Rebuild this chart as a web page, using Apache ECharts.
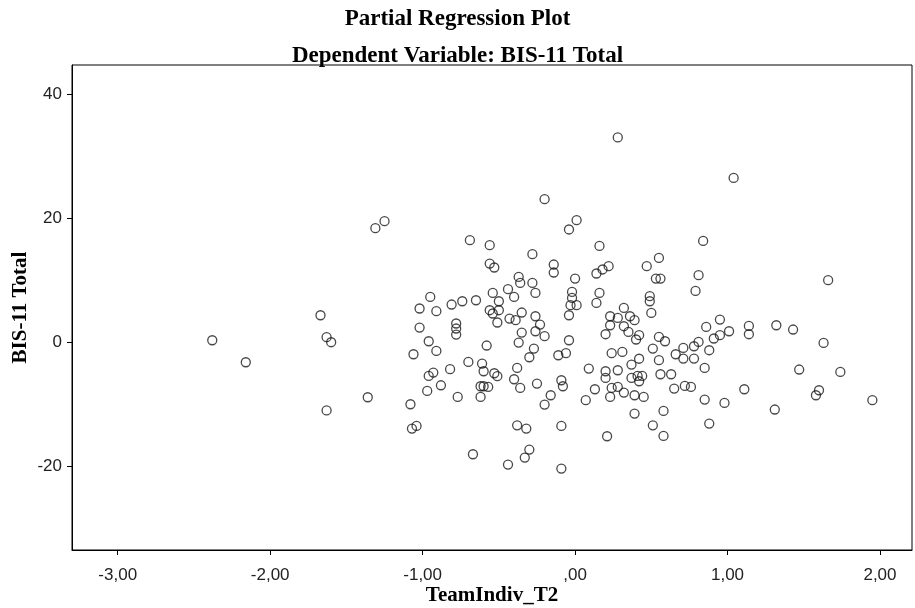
<!DOCTYPE html>
<html>
<head>
<meta charset="utf-8">
<title>Partial Regression Plot</title>
<script src="https://cdn.jsdelivr.net/npm/echarts@6/dist/echarts.min.js"></script>
<style>
  html, body { margin: 0; padding: 0; background: #fff; }
  #chart { width: 915px; height: 608px; }
</style>
</head>
<body>
<div id="chart"></div>
<script>
// Residuals of TeamIndiv_T2 (x) against residuals of BIS-11 Total (y)
const teamIndiv = [
  -2.38, -2.16, -1.67, -1.63, -1.63, -1.60, -1.36, -1.31, -1.25, -0.69,
   0.28, -0.20,  0.01, -0.04,  1.04, -0.56, -0.56, -0.53, -0.37, -0.36,
  -0.44, -0.40, -0.54, -0.95, -1.02, -0.91, -0.81, -0.74, -0.65, -0.50,
  -0.56, -0.54, -0.50, -0.51, -0.43, -0.39, -0.35, -0.78, -0.78, -0.78,
  -1.02, -0.96, -0.91, -1.06, -0.58, -0.37, -0.35,  0.16, -0.28, -0.14,
  -0.14,  0.14,  0.18,  0.22,  0.47,  0.00, -0.28, -0.26, -0.02, -0.02,
  -0.03,  0.01,  0.16,  0.14,  0.49,  0.49, -0.04, -0.26, -0.23, -0.26,
  -0.20, -0.04, -0.27, -0.30, -0.11, -0.06,  0.32,  0.23,  0.28,  0.36,
   0.39,  0.23,  0.20,  0.32,  0.35,  0.42,  0.40,  0.50,  0.24,  0.31,
   0.42,  0.51,  0.84,  0.55,  0.53,  0.56,  0.81,  0.79,  0.86,  0.95,
   1.01,  0.95,  0.91,  0.81,  0.78,  0.71,  0.66,  0.88,  0.55,  0.59,
   1.14,  1.14,  1.32,  1.66,  1.43,  1.63, -0.70, -0.61, -0.60, -0.53,
  -0.51, -0.38, -0.40, -0.36, -0.82, -0.93, -0.96, -0.88, -0.97, -1.08,
  -0.77, -0.62, -0.62, -0.60, -0.57, -1.07, -1.04, -0.67, -0.44, -0.38,
  -0.32, -0.33,  0.09,  0.20,  0.20,  0.28,  0.37,  0.37,  0.41,  0.44,
   0.42, -0.25, -0.09, -0.08, -0.16, -0.20,  0.07,  0.13,  0.23,  0.24,
   0.28,  0.32,  0.39,  0.45,  0.39, -0.09,  0.21, -0.30, -0.09,  0.55,
   0.71,  0.78,  0.85,  0.56,  0.63,  0.65,  0.72,  0.76,  0.85,  0.98,
   1.11,  1.31,  0.58,  0.51,  0.58,  0.88,  1.47,  1.74,  1.60,  1.58,
   1.95
];
const bisTotal = [
    0.32,  -3.23,   4.35, -11.00,   0.81,   0.00,  -8.87,  18.39,  19.52,  16.45,
   33.02,  23.06,  19.68,  18.18,  26.50,  15.65,  12.69,  12.05,  10.53,   9.56,
    8.55,   7.31,   7.95,   7.31,   5.44,   5.00,   6.08,   6.61,   6.77,   6.61,
    5.16,   4.63,   5.16,   3.18,   3.82,   3.55,   4.79,   3.02,   2.21,   1.24,
    2.37,   0.16,  -1.40,  -1.94,  -0.53,  -0.05,   1.56,  15.53,  14.19,  12.53,
   11.24,  11.08,  11.73,  12.26,  12.26,  10.27,   9.56,   7.95,   8.11,   7.15,
    5.97,   5.97,   7.95,   6.34,   7.42,   6.61,   4.35,   4.19,   2.85,   1.77,
    0.97,   0.32,  -1.02,  -2.42,  -2.10,  -1.77,   5.53,   4.19,   3.92,   4.19,
    3.55,   2.74,   1.29,   2.58,   1.66,   1.13,   0.44,   4.73,  -1.77,  -1.56,
   -2.66,  -1.02,  16.34,  13.60,  10.27,  10.27,  10.81,   8.27,   2.47,   3.66,
    1.77,   1.13,   0.60,   0.05,  -0.65,  -0.92,  -1.94,  -1.29,   0.85,   0.16,
    2.63,   1.29,   2.74,  10.00,   2.05,  -0.11,  -3.18,  -3.44,  -4.68,  -5.00,
   -5.48,  -4.15,  -5.97,  -7.37,  -4.35,  -4.89,  -5.44,  -6.94,  -7.85, -10.00,
   -8.82,  -8.82,  -7.10,  -7.10,  -7.21, -13.92, -13.50, -18.06, -19.73, -13.39,
  -13.92, -18.60,  -4.24,  -4.68,  -5.76,  -4.52,  -3.60,  -5.76,  -5.44,  -5.44,
   -6.29,  -6.66,  -6.13,  -7.10,  -8.55, -10.05,  -9.35,  -7.58,  -8.82,  -7.37,
   -7.21,  -8.11,  -8.55,  -8.82, -11.50, -13.50, -15.16, -17.31, -20.37,  -2.90,
   -2.63,  -2.63,  -4.15,  -5.16,  -5.16,  -7.47,  -7.05,  -7.21,  -9.24,  -9.79,
   -7.58, -10.85, -11.08, -13.39, -15.11, -13.11,  -4.40,  -4.79,  -7.74,  -8.55,
   -9.35
];

const xTicks = [-3, -2, -1, 0, 1, 2];
const yTicks = [-20, 0, 20, 40];
const xRange = [-3.30, 2.21];
const yRange = [-33.5, 44.7];

const titleText = 'Partial Regression Plot';
const subtitleText = 'Dependent Variable: BIS-11 Total';
const xName = 'TeamIndiv_T2';
const yName = 'BIS-11 Total';

const points = teamIndiv.map((x, i) => [x, bisTotal[i]]);

// SPSS style decimal comma, leading zero dropped: ",00", "-1,00"
function fmtX(v) {
  let s = Math.abs(v).toFixed(2).replace('.', ',');
  if (s.startsWith('0')) s = s.slice(1);
  return (v < 0 ? '-' : '') + s;
}

const titleFont = { fontFamily: 'Liberation Serif', fontWeight: 'bold', fontSize: 23, color: '#000' };
const nameFont = { fontFamily: 'Liberation Serif', fontWeight: 'bold', fontSize: 21, color: '#000' };
const tickFont = { fontFamily: 'Liberation Sans', fontSize: 17, color: '#222' };

const chart = echarts.init(document.getElementById('chart'), null, { renderer: 'canvas' });
chart.setOption({
  animation: false,
  backgroundColor: '#fff',
  title: [
    { text: titleText, left: 'center', top: 3, textStyle: titleFont },
    { text: subtitleText, left: 'center', top: 40, textStyle: titleFont }
  ],
  grid: {
    left: 72, top: 65, width: 840, height: 485,
    outerBoundsMode: 'none',
    show: true, borderColor: '#000', borderWidth: 1, backgroundColor: '#fff'
  },
  xAxis: {
    type: 'value',
    min: xRange[0], max: xRange[1],
    name: xName, nameLocation: 'middle', nameGap: 35, nameMoveOverlap: false,
    nameTextStyle: nameFont,
    axisLine: { show: true, onZero: false, lineStyle: { color: '#000', width: 1 } },
    axisTick: { show: true, length: 5, lineStyle: { color: '#000' }, customValues: xTicks },
    axisLabel: { ...tickFont, margin: 17, customValues: xTicks, formatter: fmtX },
    splitLine: { show: false }
  },
  yAxis: {
    type: 'value',
    min: yRange[0], max: yRange[1],
    name: yName, nameLocation: 'middle', nameGap: 41, nameRotate: 90, nameMoveOverlap: false,
    nameTextStyle: nameFont,
    axisLine: { show: true, onZero: false, lineStyle: { color: '#000', width: 1 } },
    axisTick: { show: true, length: 5, lineStyle: { color: '#000' }, customValues: yTicks },
    axisLabel: { ...tickFont, margin: 10, customValues: yTicks },
    splitLine: { show: false }
  },
  series: [{
    type: 'scatter',
    data: points,
    symbol: 'circle',
    symbolSize: 9,
    itemStyle: { color: 'rgba(255,255,255,0)', borderColor: '#1a1a1a', borderWidth: 1.3 },
    emphasis: { disabled: true }
  }]
});
</script>
</body>
</html>
